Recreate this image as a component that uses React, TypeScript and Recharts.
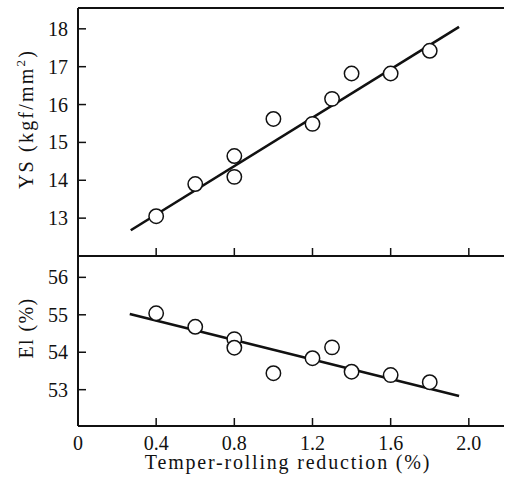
import { ComposedChart, Line, ReferenceLine, Scatter, XAxis, YAxis } from "recharts";

// temper-rolling reduction (%) of each specimen
const reduction = [0.4, 0.6, 0.8, 0.8, 1.0, 1.2, 1.3, 1.4, 1.6, 1.8];
// yield strength (kgf/mm2)
const ysValues = [13.05, 13.9, 14.64, 14.09, 15.62, 15.49, 16.15, 16.82, 16.82, 17.42];
// elongation (%)
const elValues = [55.04, 54.68, 54.35, 54.12, 53.44, 53.84, 54.13, 53.48, 53.39, 53.2];

// fitted lines, end points
const ysFitX = [0.27, 1.95];
const ysFitY = [12.68, 18.05];
const elFitX = [0.265, 1.95];
const elFitY = [55.02, 52.83];

const xTicks = [0, 0.4, 0.8, 1.2, 1.6, 2.0];
const ysTicks = [13, 14, 15, 16, 17, 18];
const elTicks = [53, 54, 55, 56];

const X_DOMAIN: [number, number] = [0, 2.18];
const YS_DOMAIN: [number, number] = [12, 18.55];
const EL_DOMAIN: [number, number] = [52.03, 56.57];

const FONT = "'Liberation Serif', 'Times New Roman', serif";
const INK = "#111";

const ysPoints = reduction.map((x, i) => ({ x, y: ysValues[i] }));
const elPoints = reduction.map((x, i) => ({ x, y: elValues[i] }));
const ysFit = ysFitX.map((x, i) => ({ x, y: ysFitY[i] }));
const elFit = elFitX.map((x, i) => ({ x, y: elFitY[i] }));

function OpenCircle(props: any) {
  const { cx, cy } = props;
  if (cx == null || cy == null) return null;
  return <circle cx={cx} cy={cy} r={7.2} fill="#fff" stroke={INK} strokeWidth={1.5} />;
}

function fmtX(v: number) {
  return v === 0 ? "0" : v.toFixed(1);
}

function YTick(props: any) {
  const { x, y, payload } = props;
  return (
    <text x={x} y={y} dy="0.35em" textAnchor="end" fontFamily={FONT} fontSize={20} fill={INK}>
      {payload.value}
    </text>
  );
}

function XTick(props: any) {
  const { x, y, payload } = props;
  return (
    <text x={x} y={y} dy="0.71em" textAnchor="middle" fontFamily={FONT} fontSize={20} fill={INK}>
      {fmtX(payload.value)}
    </text>
  );
}

// upper panel keeps the tick marks but shows no labels
function NoTick() {
  return <g />;
}

function YsTitle() {
  return (
    <text
      transform="translate(33,119) rotate(-90)"
      textAnchor="middle"
      fontFamily={FONT}
      fontSize={20}
      letterSpacing={2.2}
      fill={INK}
    >
      YS (kgf/mm
      <tspan dy={-8} fontSize={13}>
        2
      </tspan>
      <tspan dy={8}>)</tspan>
    </text>
  );
}

function ElTitle() {
  return (
    <text
      transform="translate(33,72) rotate(-90)"
      textAnchor="middle"
      fontFamily={FONT}
      fontSize={20}
      letterSpacing={1.4}
      fill={INK}
    >
      El (%)
    </text>
  );
}

function XTitle() {
  return (
    <text
      x={288}
      y={213}
      textAnchor="middle"
      fontFamily={FONT}
      fontSize={20}
      letterSpacing={1.8}
      fill={INK}
    >
      Temper-rolling reduction (%)
    </text>
  );
}

const axisLine = { stroke: INK, strokeWidth: 2 };
const tickLine = { stroke: INK, strokeWidth: 1.5 };

export default function App() {
  return (
    <div style={{ position: "absolute", left: 0, top: 0, width: 505, height: 488 }}>
      {/* upper panel: yield strength */}
      <div style={{ position: "absolute", left: 0, top: 0 }}>
        <ComposedChart width={505} height={258} margin={{ top: 8, right: 1, bottom: 1, left: 0 }}>
          <XAxis
            type="number"
            dataKey="x"
            domain={X_DOMAIN}
            ticks={xTicks}
            height={1}
            stroke={INK}
            tickSize={-8}
            tick={NoTick}
            axisLine={axisLine}
            tickLine={tickLine}
          />
          <YAxis
            type="number"
            dataKey="y"
            domain={YS_DOMAIN}
            ticks={ysTicks}
            width={78}
            stroke={INK}
            tickSize={-8}
            tickMargin={18}
            tick={YTick}
            axisLine={axisLine}
            tickLine={tickLine}
            label={YsTitle}
          />
          <ReferenceLine y={YS_DOMAIN[1]} stroke={INK} strokeWidth={2} />
          <Line
            data={ysFit}
            dataKey="y"
            type="linear"
            stroke={INK}
            strokeWidth={2.6}
            dot={false}
            isAnimationActive={false}
          />
          <Scatter data={ysPoints} dataKey="y" shape={OpenCircle} isAnimationActive={false} />
        </ComposedChart>
      </div>

      {/* lower panel: elongation */}
      <div style={{ position: "absolute", left: 0, top: 256 }}>
        <ComposedChart width={505} height={232} margin={{ top: 0, right: 1, bottom: 0, left: 0 }}>
          <XAxis
            type="number"
            dataKey="x"
            domain={X_DOMAIN}
            ticks={xTicks}
            height={62}
            stroke={INK}
            tickSize={-8}
            tickMargin={18}
            tick={XTick}
            axisLine={axisLine}
            tickLine={tickLine}
            label={XTitle}
          />
          <YAxis
            type="number"
            dataKey="y"
            domain={EL_DOMAIN}
            ticks={elTicks}
            width={78}
            stroke={INK}
            tickSize={-8}
            tickMargin={18}
            tick={YTick}
            axisLine={axisLine}
            tickLine={tickLine}
            label={ElTitle}
          />
          <Line
            data={elFit}
            dataKey="y"
            type="linear"
            stroke={INK}
            strokeWidth={2.6}
            dot={false}
            isAnimationActive={false}
          />
          <Scatter data={elPoints} dataKey="y" shape={OpenCircle} isAnimationActive={false} />
        </ComposedChart>
      </div>
    </div>
  );
}
